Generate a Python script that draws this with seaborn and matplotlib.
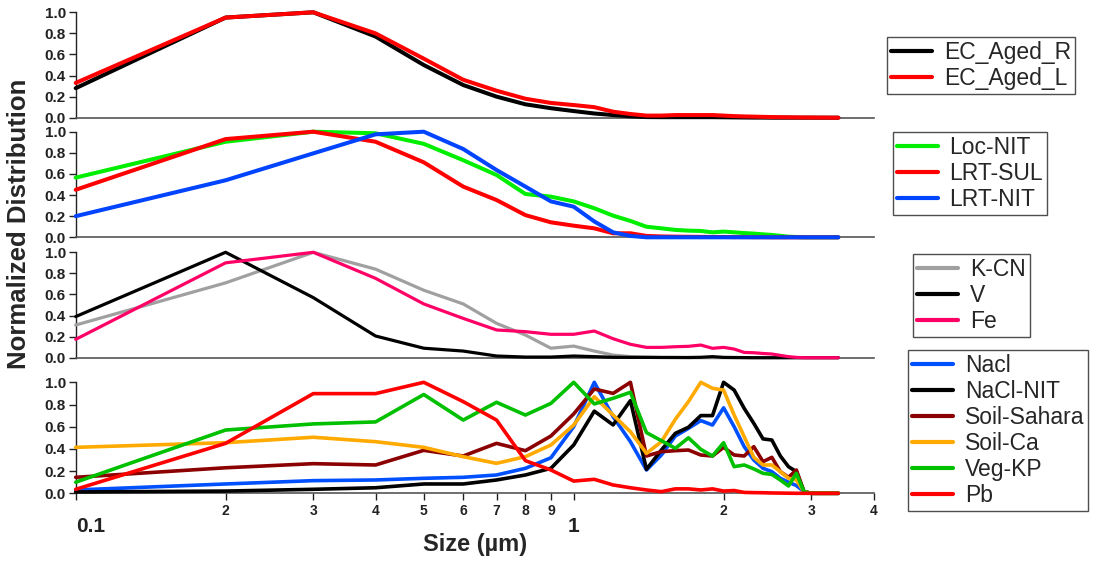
import numpy as np
import pandas as pd
import matplotlib
matplotlib.use("Agg")
import matplotlib.pyplot as plt
from matplotlib.lines import Line2D
from matplotlib.ticker import FixedLocator, FixedFormatter, FormatStrFormatter
import seaborn as sns

# ---------------- data ----------------
sizes = [0.1, 0.2, 0.3, 0.4, 0.5, 0.6, 0.7, 0.8, 0.9, 1.0,
         1.1, 1.2, 1.3, 1.4, 1.5, 1.6, 1.7, 1.8, 1.9, 2.0,
         2.1, 2.2, 2.3, 2.4, 2.5, 2.6, 2.7, 2.8, 2.9, 3.0,
         3.1, 3.2, 3.3, 3.4]

# panel 1
ec_aged_r = [0.28, 0.95, 1.00, 0.77, 0.50, 0.31, 0.20, 0.127, 0.09, 0.063,
             0.04, 0.025, 0.013, 0.006, 0.005, 0.005, 0.005, 0.005, 0.005, 0.004,
             0.003, 0.002, 0.001, 0.001, 0, 0, 0, 0, 0, 0,
             0, 0, 0, 0]
ec_aged_l = [0.33, 0.95, 1.00, 0.80, 0.56, 0.36, 0.256, 0.18, 0.14, 0.12,
             0.10, 0.057, 0.035, 0.02, 0.02, 0.025, 0.025, 0.025, 0.025, 0.02,
             0.015, 0.012, 0.01, 0.008, 0.006, 0.005, 0.004, 0.003, 0.002, 0.002,
             0.001, 0.001, 0, 0]

# panel 2
loc_nit = [0.565, 0.905, 1.0, 0.985, 0.885, 0.73, 0.59, 0.41, 0.385, 0.34,
           0.275, 0.205, 0.155, 0.10, 0.085, 0.07, 0.063, 0.06, 0.047, 0.054,
           0.047, 0.04, 0.035, 0.028, 0.022, 0.014, 0.006, 0.003, 0, 0,
           0, 0, 0, 0]
lrt_sul = [0.45, 0.93, 1.0, 0.905, 0.71, 0.48, 0.353, 0.21, 0.142, 0.11,
           0.085, 0.038, 0.038, 0.013, 0.008, 0.006, 0.005, 0.004, 0.003, 0.003,
           0.002, 0.002, 0.001, 0.001, 0, 0, 0, 0, 0, 0,
           0, 0, 0, 0]
lrt_nit = [0.20, 0.54, 0.795, 0.975, 1.0, 0.836, 0.637, 0.48, 0.34, 0.29,
           0.15, 0.047, 0.013, 0.0, 0, 0, 0, 0, 0, 0,
           0, 0, 0, 0, 0, 0, 0, 0, 0, 0,
           0, 0, 0, 0]

# panel 3
k_cn = [0.31, 0.71, 1.0, 0.84, 0.64, 0.51, 0.326, 0.215, 0.09, 0.11,
        0.063, 0.025, 0.01, 0.005, 0.003, 0.002, 0, 0, 0, 0,
        0, 0, 0, 0, 0, 0, 0, 0, 0, 0,
        0, 0, 0, 0]
v_el = [0.39, 1.0, 0.57, 0.206, 0.09, 0.063, 0.016, 0.006, 0.006, 0.016,
        0.01, 0.004, 0.003, 0.003, 0.002, 0.002, 0.002, 0.004, 0.01, 0.003,
        0.002, 0.001, 0, 0, 0, 0, 0, 0, 0, 0,
        0, 0, 0, 0]
fe_el = [0.174, 0.90, 1.0, 0.753, 0.51, 0.373, 0.263, 0.247, 0.222, 0.222,
         0.253, 0.18, 0.127, 0.098, 0.098, 0.104, 0.108, 0.12, 0.089, 0.098,
         0.082, 0.05, 0.047, 0.04, 0.035, 0.022, 0.01, 0.003, 0, 0,
         0, 0, 0, 0]

# panel 4
nacl = [0.03, 0.084, 0.114, 0.12, 0.135, 0.144, 0.165, 0.225, 0.32, 0.60,
        1.0, 0.69, 0.465, 0.21, 0.345, 0.516, 0.585, 0.655, 0.615, 0.77,
        0.60, 0.42, 0.30, 0.225, 0.195, 0.135, 0.10, 0.07, 0.015, 0,
        0, 0, 0, 0]
nacl_nit = [0.012, 0.02, 0.036, 0.05, 0.084, 0.084, 0.12, 0.165, 0.225, 0.435,
            0.74, 0.616, 0.835, 0.216, 0.39, 0.54, 0.595, 0.70, 0.70, 1.0,
            0.93, 0.765, 0.63, 0.49, 0.48, 0.336, 0.24, 0.195, 0.015, 0,
            0, 0, 0, 0]
soil_sahara = [0.144, 0.23, 0.267, 0.255, 0.387, 0.336, 0.45, 0.384, 0.516, 0.715,
               0.94, 0.90, 1.0, 0.336, 0.375, 0.384, 0.39, 0.345, 0.336, 0.414,
               0.345, 0.336, 0.42, 0.285, 0.324, 0.195, 0.144, 0.21, 0.015, 0,
               0, 0, 0, 0]
soil_ca = [0.414, 0.456, 0.505, 0.465, 0.414, 0.33, 0.27, 0.33, 0.435, 0.615,
           0.87, 0.705, 0.555, 0.36, 0.465, 0.667, 0.826, 1.0, 0.946, 0.93,
           0.705, 0.51, 0.324, 0.255, 0.255, 0.195, 0.135, 0.12, 0.015, 0,
           0, 0, 0, 0]
veg_kp = [0.10, 0.57, 0.625, 0.643, 0.89, 0.66, 0.82, 0.705, 0.81, 1.0,
          0.805, 0.856, 0.91, 0.547, 0.474, 0.405, 0.50, 0.396, 0.336, 0.456,
          0.24, 0.255, 0.22, 0.18, 0.17, 0.12, 0.066, 0.18, 0.015, 0,
          0, 0, 0, 0]
pb = [0.036, 0.45, 0.898, 0.898, 1.0, 0.826, 0.66, 0.294, 0.21, 0.11,
      0.126, 0.075, 0.05, 0.03, 0.015, 0.04, 0.04, 0.03, 0.04, 0.02,
      0.025, 0.008, 0.006, 0.005, 0.003, 0.002, 0.001, 0, 0, 0,
      0, 0, 0, 0]

panels = [
    (["EC_Aged_R", "EC_Aged_L"], [ec_aged_r, ec_aged_l],
     ["#000000", "#ff0000"], 2.9, (1.017, 0.766)),
    (["Loc-NIT", "LRT-SUL", "LRT-NIT"], [loc_nit, lrt_sul, lrt_nit],
     ["#00ee00", "#ff0000", "#0044ff"], 2.9, (1.024, 0.997)),
    (["K-CN", "V", "Fe"], [k_cn, v_el, fe_el],
     ["#a0a0a0", "#000000", "#ff0066"], 2.3, (1.0495, 0.984)),
    (["Nacl", "NaCl-NIT", "Soil-Sahara", "Soil-Ca", "Veg-KP", "Pb"],
     [nacl, nacl_nit, soil_sahara, soil_ca, veg_kp, pb],
     ["#0050ff", "#000000", "#8b0000", "#ffaa00", "#00c000", "#ff0000"], 2.6,
     (1.043, 1.291)),
]

minor_ticks = [0.2, 0.3, 0.4, 0.5, 0.6, 0.7, 0.8, 0.9, 2, 3, 4]
minor_labels = ["2", "3", "4", "5", "6", "7", "8", "9", "2", "3", "4"]
major_ticks = [0.1, 1]
major_labels = ["0.1", "1"]

# ---------------- figure ----------------
sns.set_style("ticks")
plt.rcParams['font.family'] = ['Liberation Sans', 'DejaVu Sans']

FW, FH = 1098, 561
fig = plt.figure(figsize=(FW / 100, FH / 100), dpi=100)
left_px, right_px = 75.7, 873.5
panel_px = [(12.3, 117.7), (131.7, 237.3), (252.3, 357.7), (382.3, 493.3)]

for i, ((names, vals, cols, lw, anchor), (top, bot)) in enumerate(zip(panels, panel_px)):
    ax = fig.add_axes([left_px / FW, 1 - bot / FH, (right_px - left_px) / FW, (bot - top) / FH])
    df = pd.DataFrame({
        "Size": np.tile(sizes, len(names)),
        "Value": np.concatenate([np.asarray(v, float) for v in vals]),
        "Series": np.repeat(names, len(sizes)),
    })
    sns.lineplot(data=df, x="Size", y="Value", hue="Series", hue_order=names,
                 palette=dict(zip(names, cols)), estimator=None, linewidth=lw,
                 legend=False, ax=ax)
    for ln in ax.lines:
        ln.set_clip_on(False)
        ln.set_zorder(3)
    ax.set_xscale("log")
    ax.set_xlim(0.1, 4)
    ax.set_ylim(0, 1)
    ax.set_xlabel("")
    ax.set_ylabel("")
    ax.set_yticks([0, 0.2, 0.4, 0.6, 0.8, 1.0])
    ax.yaxis.set_major_formatter(FormatStrFormatter("%.1f"))
    ax.tick_params(axis="y", which="both", direction="out", length=5, width=1,
                   pad=2, labelsize=11, colors="#222222")
    for lab in ax.get_yticklabels():
        lab.set_fontweight("bold")
    ax.spines["top"].set_visible(False)
    ax.spines["right"].set_visible(False)
    ax.spines["left"].set_color("#222222")
    ax.spines["bottom"].set_color("#555555")
    ax.spines["left"].set_linewidth(1.0)
    ax.spines["bottom"].set_linewidth(1.2)

    if i < 3:
        ax.tick_params(axis="x", which="both", bottom=False, labelbottom=False)
    else:
        ax.xaxis.set_major_locator(FixedLocator(major_ticks))
        ax.xaxis.set_major_formatter(FixedFormatter(major_labels))
        ax.xaxis.set_minor_locator(FixedLocator(minor_ticks))
        ax.xaxis.set_minor_formatter(FixedFormatter(minor_labels))
        ax.tick_params(axis="x", which="major", direction="out", length=5, width=1,
                       pad=12, labelsize=15, colors="#222222")
        ax.tick_params(axis="x", which="minor", direction="out", length=5, width=1,
                       pad=3, labelsize=10, colors="#222222")
        for lab in ax.get_xticklabels(which="both"):
            lab.set_fontweight("bold")
        ax.get_xticklabels()[0].set_horizontalalignment("left")

    handles = [Line2D([], [], color=c, lw=3) for c in cols]
    leg = ax.legend(handles, names, loc="upper left", bbox_to_anchor=anchor,
                    borderaxespad=0, frameon=True, fancybox=False,
                    edgecolor="#222222", fontsize=16.5, handlelength=1.8,
                    handletextpad=0.5, labelspacing=0.13, borderpad=0.18)
    leg.get_frame().set_linewidth(1.0)

fig.text(19 / FW, 1 - 223.5 / FH, "Normalized Distribution", rotation=90,
         ha="center", va="center", fontsize=18.5, fontweight="bold")
fig.text(474.6 / FW, 1 - 545 / FH, "Size (\u00b5m)", ha="center", va="center",
         fontsize=17, fontweight="bold")

fig.savefig("out.png", dpi=100)
